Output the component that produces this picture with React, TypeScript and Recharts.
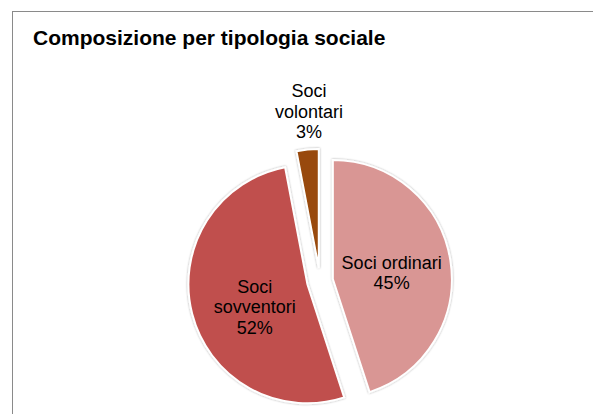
import { PieChart, Pie, Sector } from 'recharts';

const names = ['Soci ordinari', 'Soci sovventori', 'Soci volontari'];
const shares = [45, 52, 3];
const colors = ['#D99694', '#C0504D', '#984807'];
// how each label is wrapped in the original
const labelLines = [['Soci ordinari'], ['Soci', 'sovventori'], ['Soci', 'volontari']];

const data = names.map((name, i) => ({ name, value: shares[i], fill: colors[i] }));

const RAD = Math.PI / 180;
const EXPLODE = 13;
const FONT = '"Liberation Sans", Arial, sans-serif';

// label distance from slice tip, as share of the radius, plus small nudges
const labelRadius = [0.53, 0.5, 1.31];
const labelNudge = [[-3.5, 4], [5, 8], [5, -1]];

function ExplodedSlice(props: any) {
  const { cx, cy, midAngle } = props;
  const dx = EXPLODE * Math.cos(-midAngle * RAD);
  const dy = EXPLODE * Math.sin(-midAngle * RAD);
  return (
    <g filter="url(#sliceShadow)">
      <Sector {...props} cx={cx + dx} cy={cy + dy} stroke="#fff" strokeWidth={2} />
    </g>
  );
}

function SliceLabel(props: any) {
  const { cx, cy, midAngle, outerRadius, percent, index } = props;
  const r = EXPLODE + outerRadius * labelRadius[index];
  const x = cx + r * Math.cos(-midAngle * RAD) + labelNudge[index][0];
  const y = cy + r * Math.sin(-midAngle * RAD) + labelNudge[index][1];
  const lines = [...labelLines[index], `${Math.round(percent * 100)}%`];
  const lh = 20.5;
  const top = y - ((lines.length - 1) * lh) / 2;
  return (
    <text
      x={x}
      y={top}
      textAnchor="middle"
      dominantBaseline="central"
      fontFamily={FONT}
      fontSize={18}
      fill="#000"
    >
      {lines.map((l, i) => (
        <tspan key={i} x={x} y={top + i * lh} dominantBaseline="central">
          {l}
        </tspan>
      ))}
    </text>
  );
}

export default function App() {
  return (
    <div
      style={{
        position: 'relative',
        width: 601,
        height: 414,
        margin: '-8px 0 0 -8px',
        overflow: 'hidden',
        background: '#fff',
      }}
    >
      <div
        style={{
          position: 'absolute',
          left: 12,
          top: 11,
          width: 640,
          height: 440,
          border: '1px solid #8a8a8a',
        }}
      />
      <div
        style={{
          position: 'absolute',
          left: 33,
          top: 26,
          fontFamily: FONT,
          fontWeight: 'bold',
          fontSize: 21,
          lineHeight: '23px',
          color: '#000',
          whiteSpace: 'nowrap',
        }}
      >
        Composizione per tipologia sociale
      </div>
      <div style={{ position: 'absolute', left: 0, top: 0 }}>
        <PieChart width={601} height={414}>
          <defs>
            <filter id="sliceShadow" x="-20%" y="-20%" width="140%" height="140%">
              <feDropShadow dx="0" dy="0" stdDeviation="1.2" floodColor="#000" floodOpacity="0.35" />
            </filter>
          </defs>
          <Pie
            data={data}
            dataKey="value"
            nameKey="name"
            cx={315}
            cy={276}
            outerRadius={119}
            startAngle={90}
            endAngle={-270}
            shape={ExplodedSlice}
            label={SliceLabel}
            labelLine={false}
            isAnimationActive={false}
          />
        </PieChart>
      </div>
    </div>
  );
}
